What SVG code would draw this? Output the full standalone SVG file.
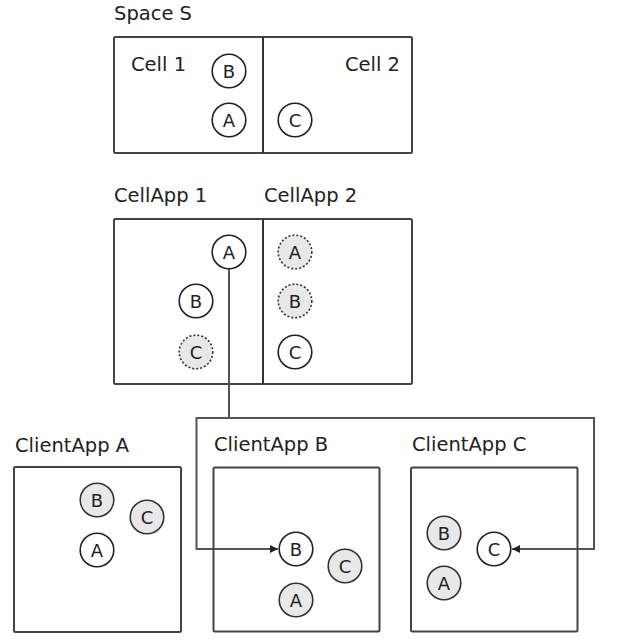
<svg xmlns="http://www.w3.org/2000/svg" width="617" height="644" viewBox="0 0 617 644">
<style>
.lbl{font-family:"DejaVu Sans",sans-serif;font-size:19.5px;fill:#222}
.box{fill:none;stroke:#444;stroke-width:2}
.div{stroke:#333;stroke-width:2}
.c{stroke:#222;stroke-width:1.6;fill:#fff}
.g{stroke:#333;stroke-width:1.6;fill:#e8e8e8}
.d{stroke:#333;stroke-width:1.6;fill:#e8e8e8;stroke-dasharray:2 2}
.t{font-family:"DejaVu Sans",sans-serif;font-size:18px;fill:#222;text-anchor:middle;dominant-baseline:central}
.conn{fill:none;stroke:#555;stroke-width:2}
</style>
<defs>
<marker id="arr" viewBox="0 0 10 10" refX="10" refY="5" markerWidth="4" markerHeight="4" orient="auto" markerUnits="strokeWidth">
<path d="M0,0 L10,5 L0,10 z" fill="#222"/>
</marker>
</defs>
<rect width="617" height="644" fill="#fff"/>
<g id="space-s">
<text class="lbl" x="114" y="20">Space S</text>
<rect class="box" x="114" y="37" width="298" height="116" rx="1.5"/>
<line class="div" x1="263" y1="37" x2="263" y2="153"/>
<text class="lbl" x="131" y="70.5">Cell 1</text>
<text class="lbl" x="400" y="70.5" text-anchor="end">Cell 2</text>
</g>
<g id="s-B"><circle class="c" cx="229" cy="71" r="16.8"/><text class="t" x="229" y="71">B</text></g>
<g id="s-A"><circle class="c" cx="229" cy="120" r="16.8"/><text class="t" x="229" y="120">A</text></g>
<g id="s-C"><circle class="c" cx="295" cy="120" r="16.8"/><text class="t" x="295" y="120">C</text></g>

<g id="cellapps">
<text class="lbl" x="114" y="201.5">CellApp 1</text>
<text class="lbl" x="264" y="201.5">CellApp 2</text>
<rect class="box" x="114" y="219" width="298" height="165" rx="1.5"/>
<line class="div" x1="263" y1="219" x2="263" y2="384"/>
</g>

<g id="connectors">
<path class="conn" d="M229,268.5 V418"/>
<path class="conn" d="M196.5,418 H594 M196.5,417 V549 H278" marker-end="url(#arr)"/>
<path class="conn" d="M594,417 V549 H512" marker-end="url(#arr)"/>
</g>

<g id="ca1-A"><circle class="c" cx="229" cy="252" r="16.8"/><text class="t" x="229" y="252">A</text></g>
<g id="ca1-B"><circle class="c" cx="196" cy="301" r="16.8"/><text class="t" x="196" y="301">B</text></g>
<g id="ca1-C"><circle class="d" cx="196" cy="352" r="16.8"/><text class="t" x="196" y="352">C</text></g>
<g id="ca2-A"><circle class="d" cx="295" cy="252" r="16.8"/><text class="t" x="295" y="252">A</text></g>
<g id="ca2-B"><circle class="d" cx="295" cy="301" r="16.8"/><text class="t" x="295" y="301">B</text></g>
<g id="ca2-C"><circle class="c" cx="295" cy="352" r="16.8"/><text class="t" x="295" y="352">C</text></g>

<g id="clientapp-a">
<text class="lbl" x="15" y="451.5">ClientApp A</text>
<rect class="box" x="14" y="467" width="167" height="165" rx="1.5"/>
</g>
<g id="cla-B"><circle class="g" cx="97" cy="500" r="16.8"/><text class="t" x="97" y="500">B</text></g>
<g id="cla-C"><circle class="g" cx="147" cy="517" r="16.8"/><text class="t" x="147" y="517">C</text></g>
<g id="cla-A"><circle class="c" cx="97" cy="550" r="16.8"/><text class="t" x="97" y="550">A</text></g>

<g id="clientapp-b">
<text class="lbl" x="214" y="450.5">ClientApp B</text>
<rect class="box" x="213.5" y="467.5" width="166" height="164" rx="1.5"/>
</g>
<g id="clb-B"><circle class="c" cx="296" cy="549" r="16.8"/><text class="t" x="296" y="549">B</text></g>
<g id="clb-C"><circle class="g" cx="345" cy="566" r="16.8"/><text class="t" x="345" y="566">C</text></g>
<g id="clb-A"><circle class="g" cx="296" cy="600" r="16.8"/><text class="t" x="296" y="600">A</text></g>

<g id="clientapp-c">
<text class="lbl" x="412" y="450.5">ClientApp C</text>
<rect class="box" x="411" y="467.5" width="166.5" height="164" rx="1.5"/>
</g>
<g id="clc-B"><circle class="g" cx="444" cy="533" r="16.8"/><text class="t" x="444" y="533">B</text></g>
<g id="clc-C"><circle class="c" cx="494" cy="549" r="16.8"/><text class="t" x="494" y="549">C</text></g>
<g id="clc-A"><circle class="g" cx="444" cy="583" r="16.8"/><text class="t" x="444" y="583">A</text></g>
</svg>
